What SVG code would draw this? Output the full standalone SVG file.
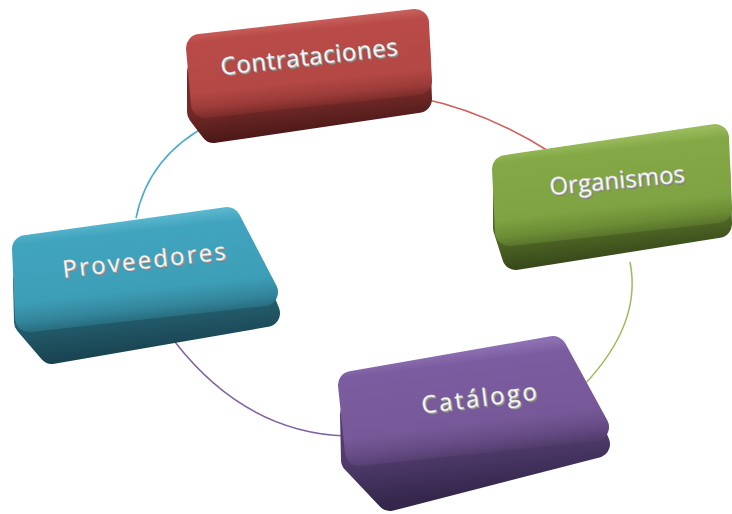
<svg xmlns="http://www.w3.org/2000/svg" width="732" height="514" viewBox="0 0 732 514">
<style>
.side{stroke-linejoin:round;stroke-width:28}
.top{stroke-linejoin:round;stroke-width:28}
.arc{fill:none;stroke-width:1.5}
.lbl{font-family:"Open Sans","DejaVu Sans",sans-serif;font-size:24px;text-anchor:middle}
.sh1{fill:#7d7d7d}
.sh2{fill:#a5a5a5}
.fg{fill:#ffffff;stroke:#c8c8c8;stroke-width:0.4}
</style>
<defs>
<linearGradient id="rT" gradientUnits="userSpaceOnUse" x1="309" y1="20" x2="318" y2="106"><stop offset="0" stop-color="#c9625e"/><stop offset="0.12" stop-color="#b94a47"/><stop offset="0.7" stop-color="#b44845"/><stop offset="0.88" stop-color="#9c3c39"/><stop offset="1" stop-color="#7c2c2a"/></linearGradient>
<linearGradient id="rS" gradientUnits="userSpaceOnUse" x1="310" y1="100" x2="313" y2="132"><stop offset="0" stop-color="#742a28"/><stop offset="1" stop-color="#4c1918"/></linearGradient>
<linearGradient id="gT" gradientUnits="userSpaceOnUse" x1="612" y1="139" x2="623" y2="235"><stop offset="0" stop-color="#99ba5d"/><stop offset="0.12" stop-color="#84a845"/><stop offset="0.7" stop-color="#7fa342"/><stop offset="0.88" stop-color="#6c8c35"/><stop offset="1" stop-color="#56722a"/></linearGradient>
<linearGradient id="gS" gradientUnits="userSpaceOnUse" x1="612" y1="228" x2="615" y2="258"><stop offset="0" stop-color="#506a26"/><stop offset="1" stop-color="#38491a"/></linearGradient>
<linearGradient id="pT" gradientUnits="userSpaceOnUse" x1="475" y1="349" x2="488" y2="453"><stop offset="0" stop-color="#8d70b2"/><stop offset="0.12" stop-color="#7b5ca0"/><stop offset="0.7" stop-color="#775999"/><stop offset="0.88" stop-color="#654b84"/><stop offset="1" stop-color="#523d6c"/></linearGradient>
<linearGradient id="pS" gradientUnits="userSpaceOnUse" x1="475" y1="446" x2="480" y2="492"><stop offset="0" stop-color="#513c6e"/><stop offset="1" stop-color="#35274c"/></linearGradient>
<linearGradient id="tT" gradientUnits="userSpaceOnUse" x1="145" y1="218" x2="156" y2="319"><stop offset="0" stop-color="#5ab6cd"/><stop offset="0.12" stop-color="#41a4be"/><stop offset="0.7" stop-color="#3d9eb7"/><stop offset="0.88" stop-color="#33869c"/><stop offset="1" stop-color="#286c7e"/></linearGradient>
<linearGradient id="tS" gradientUnits="userSpaceOnUse" x1="145" y1="312" x2="149" y2="352"><stop offset="0" stop-color="#245f6f"/><stop offset="1" stop-color="#194351"/></linearGradient>
</defs>
<rect width="732" height="514" fill="#ffffff"/>
<g id="connectors">
<path class="arc" stroke="#cf5e5c" d="M 420 98 Q 486 111.5 550 152"/>
<path class="arc" stroke="#9bbb59" d="M 630 262 Q 642.5 324 583 386"/>
<path class="arc" stroke="#8064a2" d="M 175 342 Q 245.5 432.5 346 436"/>
<path class="arc" stroke="#4bacc6" d="M 210 124 Q 148.5 156 136 218"/>
</g>
<g id="contrataciones">
<polygon class="side" fill="url(#rS)" stroke="url(#rS)" points="201,72 416,47 418,99 214,129 201,112"/>
<polygon class="top" fill="url(#rT)" stroke="url(#rT)" points="200,48 415,23 418,81 205,104"/>
<g transform="translate(309,56.5) rotate(-6.5)">
<text class="lbl sh1" x="1.5" y="10.5" textLength="178">Contrataciones</text>
<text class="lbl sh2" x="0.8" y="9.5" textLength="178">Contrataciones</text>
<text class="lbl fg" x="0" y="8.5" textLength="178">Contrataciones</text>
</g>
</g>
<g id="organismos">
<polygon class="side" fill="url(#gS)" stroke="url(#gS)" points="507,195 716,165 718,224 516,256 507,228"/>
<polygon class="top" fill="url(#gT)" stroke="url(#gT)" points="506,169 715,138 718,209 509,232"/>
<g transform="translate(617,180) rotate(-5.5)">
<text class="lbl sh1" x="1.5" y="10.5" textLength="136">Organismos</text>
<text class="lbl sh2" x="0.8" y="9.5" textLength="136">Organismos</text>
<text class="lbl fg" x="0" y="8.5" textLength="136">Organismos</text>
</g>
</g>
<g id="catalogo">
<polygon class="side" fill="url(#pS)" stroke="url(#pS)" points="354,415 568,380 596,444 390,497 355,460"/>
<polygon class="top" fill="url(#pT)" stroke="url(#pT)" points="352,385 553,350 595,427 359,452"/>
<g transform="translate(479,398) rotate(-7)">
<text class="lbl sh1" x="1.5" y="10.5" textLength="116">Catálogo</text>
<text class="lbl sh2" x="0.8" y="9.5" textLength="116">Catálogo</text>
<text class="lbl fg" x="0" y="8.5" textLength="116">Catálogo</text>
</g>
</g>
<g id="proveedores">
<polygon class="side" fill="url(#tS)" stroke="url(#tS)" points="27,280 241,252 266,313 52,350 28,322"/>
<polygon class="top" fill="url(#tT)" stroke="url(#tT)" points="26,249 227,221 264,292 29,318"/>
<g transform="translate(144,260) rotate(-6.5)">
<text class="lbl sh1" x="1.5" y="10.5" textLength="164">Proveedores</text>
<text class="lbl sh2" x="0.8" y="9.5" textLength="164">Proveedores</text>
<text class="lbl fg" x="0" y="8.5" textLength="164">Proveedores</text>
</g>
</g>
</svg>
